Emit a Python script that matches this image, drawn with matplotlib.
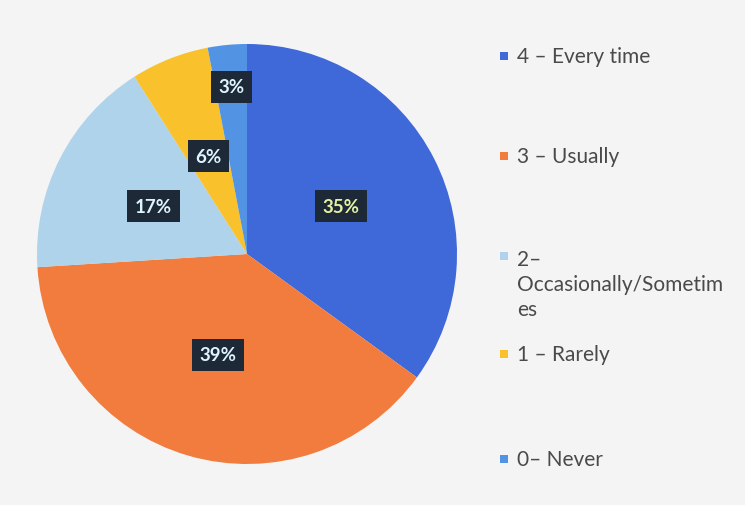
import matplotlib.pyplot as plt
from matplotlib.patches import Rectangle

labels = ['4 \u2013 Every time', '3 \u2013 Usually', '2\u2013\nOccasionally/Sometim\nes',
          '1 \u2013 Rarely', '0\u2013 Never']
values = [35, 39, 17, 6, 3]
colors = ['#3f68d8', '#f27b3e', '#aed3ea', '#f9c22c', '#5293e4']

plt.rcParams['font.family'] = ['Lato', 'DejaVu Sans']

fig = plt.figure(figsize=(7.45, 5.06), dpi=100)
fig.patch.set_facecolor('#f4f4f4')

# pie centred at (247, 255) px, radius 210 px
ax = fig.add_axes([37 / 745, 41 / 506, 420 / 745, 420 / 506])
ax.set_facecolor('none')
wedges, texts, autotexts = ax.pie(values, colors=colors, startangle=90, counterclock=False,
                                  radius=1, autopct='%d%%', pctdistance=0.5,
                                  textprops=dict(color='#dff4ff', fontsize=13.5, fontweight='bold'))
autotexts[-1].set_position((autotexts[-1].get_position()[0] * 1.6,
                            autotexts[-1].get_position()[1] * 1.6))
for t in autotexts:
    t.set_bbox(dict(boxstyle='square,pad=0.4', facecolor='#1d2937', edgecolor='none'))
autotexts[0].set_color('#e6f2a0')
ax.set_xlim(-1, 1)
ax.set_ylim(-1, 1)
ax.set_aspect('equal')

# legend entries placed by hand (spacing in the original is uneven)
legend_y = [57, 157, 285, 355, 460]
for lab, col, y in zip(labels, colors, legend_y):
    yf = 1 - y / 506
    if '\n' in lab:
        ym = 1 - 257 / 506
    else:
        ym = yf
    fig.patches.append(Rectangle((500 / 745, ym - 4 / 506), 8 / 745, 8 / 506,
                                 transform=fig.transFigure, facecolor=col, edgecolor='none'))
    fig.text(517 / 745, yf, lab, fontsize=15, color='#4a4a4a', va='center', ha='left',
             linespacing=1.3)

fig.savefig('out.png', dpi=100, facecolor=fig.get_facecolor())
